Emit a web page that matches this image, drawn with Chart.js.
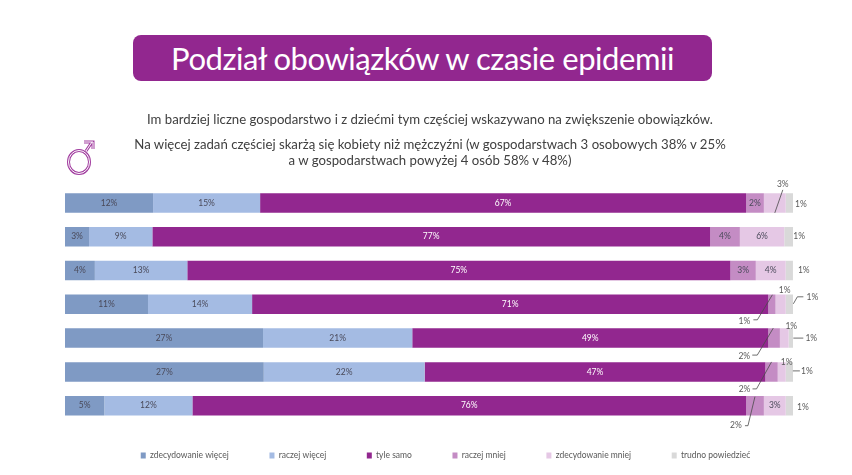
<!DOCTYPE html>
<html lang="pl">
<head>
<meta charset="utf-8">
<style>
html,body{margin:0;padding:0;background:#fff;width:852px;height:475px;overflow:hidden;font-family:Lato,sans-serif}
#wrap{position:relative;width:852px;height:475px}
canvas{position:absolute;left:0;top:0}
.t{position:absolute;white-space:nowrap;text-align:center}
#title{left:133px;top:35px;width:579px;height:46px;line-height:46px;background:#92278f;border-radius:8px;color:#fff;font-size:31px;letter-spacing:-0.45px}
.sub{left:0;width:860px;font-size:13.2px;color:#404040;line-height:16px}
svg{position:absolute;left:64px;top:140px}
</style>
</head>
<body>
<div id="wrap">
<canvas id="c" width="852" height="475"></canvas>
<div class="t" id="title">Podział obowiązków w czasie epidemii</div>
<div class="t sub" style="top:111px">Im bardziej liczne gospodarstwo i z dziećmi tym częściej wskazywano na zwiększenie obowiązków.</div>
<div class="t sub" style="top:136px">Na więcej zadań częściej skarżą się kobiety niż mężczyźni (w gospodarstwach 3 osobowych 38% v 25%</div>
<div class="t sub" style="top:152px">a w gospodarstwach powyżej 4 osób 58% v 48%)</div>
<svg width="32" height="36" viewBox="0 0 32 36" fill="none">
  <path d="M22 11 L28 2 M20 2 H29 V9" stroke="#a23ea0" stroke-width="3"/>
  <path d="M22 11 L28 2 M20 2 H29 V9" stroke="#fff" stroke-width="1"/>
  <ellipse cx="15" cy="22" rx="10.5" ry="11.5" stroke="#a23ea0" stroke-width="3"/>
  <ellipse cx="15" cy="22" rx="10.5" ry="11.5" stroke="#fff" stroke-width="1"/>
</svg>
</div>
<script src="https://cdn.jsdelivr.net/npm/chart.js@4"></script>
<script>
const categories = ['1','2','3','4','5','6','7'];
const seriesNames = ['zdecydowanie więcej','raczej więcej','tyle samo','raczej mniej','zdecydowanie mniej','trudno powiedzieć'];
const zdecydowanieWiecej = [12.1, 3.3, 4.1, 11.4, 27.2, 27.3, 5.4];
const raczejWiecej       = [14.7, 8.7, 12.7, 14.3, 20.5, 22.1, 12.1];
const tyleSamo           = [66.75, 76.6, 74.6, 70.9, 48.9, 46.8, 76.05];
const raczejMniej        = [2.45, 4.1, 3.49, 1.0, 1.6, 1.7, 2.45];
const zdecydowanieMniej  = [3.0, 6.1, 4.1, 1.4, 1.2, 1.1, 3.0];
const trudnoPowiedziec   = [1.0, 1.2, 1.0, 1.0, 0.6, 1.0, 1.0];
const seriesColors = ['#7f9ac4','#a4bbe3','#92278f','#c48cc4','#e5c8e5','#d9d9d9'];
const seriesValues = [zdecydowanieWiecej, raczejWiecej, tyleSamo, raczejMniej, zdecydowanieMniej, trudnoPowiedziec];

// Outside labels: row, series, label offset and leader line, relative to the segment centre (styling only).
const callouts = [
  [0,4,  8,-19, [[0,10],[8,-13]]],
  [0,5, 11.5,1, []],
  [1,5, 10.5,0, []],
  [2,5, 14.5,0, []],
  [3,3,-27.5,16.5, [[-18.5,15.5],[-14.5,15.5],[0.5,-9.5]]],
  [3,4,  4,-14.5, []],
  [3,5, 23,-7.5, [[4,-0.5],[8,-7.5],[14,-7.5]]],
  [4,3,-29.8,18, [[-21.8,17],[-16.8,17],[-0.8,-10]]],
  [4,4,  7,-12, []],
  [4,5, 20.5,0, [[2.5,0],[12.5,0]]],
  [5,3,-27,17, [[-19,17],[-15,17],[0,-10]]],
  [5,4,  5,-10, []],
  [5,5, 17.5,-1, [[3.5,-1],[10.5,-1]]],
  [6,3,-19,20, [[-10,20],[-7,20],[0,-9]]],
  [6,5, 13.5,2, []]
];

const labelPlugin = {
  id:'segmentLabels',
  afterLayout(chart){
    const l = chart.legend;
    const dx = 16.5, dy = -12;
    l.left += dx; l.right += dx; l.top += dy; l.bottom += dy;
  },
  afterDatasetsDraw(chart){
    const ctx = chart.ctx;
    ctx.save();
    ctx.font = '8.5px Lato, sans-serif';
    ctx.textAlign = 'center';
    ctx.textBaseline = 'middle';
    const isOut = (r,s)=>callouts.some(c=>c[0]===r&&c[1]===s);
    chart.data.datasets.forEach((ds,s)=>{
      const meta = chart.getDatasetMeta(s);
      meta.data.forEach((el,r)=>{
        if(isOut(r,s)) return;
        ctx.fillStyle = s===2 ? '#ffffff' : '#4a4a5a';
        ctx.fillText(Math.round(ds.data[r])+'%', (el.x+el.base)/2, el.y);
      });
    });
    callouts.forEach(([r,s,lx,ly,pts])=>{
      const el = chart.getDatasetMeta(s).data[r];
      const cx = (el.x+el.base)/2, cy = el.y;
      if(pts.length){
        ctx.strokeStyle = '#4a4a4a';
        ctx.lineWidth = 0.8;
        ctx.beginPath();
        pts.forEach(([x,y],i)=> i? ctx.lineTo(cx+x,cy+y) : ctx.moveTo(cx+x,cy+y));
        ctx.stroke();
      }
      ctx.fillStyle = '#595959';
      ctx.fillText(Math.round(chart.data.datasets[s].data[r])+'%', cx+lx, cy+ly);
    });
    ctx.restore();
  }
};

new Chart(document.getElementById('c'),{
  type:'bar',
  data:{
    labels:categories,
    datasets:seriesNames.map((n,i)=>({
      label:n,
      data:seriesValues[i],
      backgroundColor:seriesColors[i],
      borderWidth:0,
      categoryPercentage:1,
      barPercentage:0.577
    }))
  },
  options:{
    indexAxis:'y',
    responsive:false,
    animation:false,
    layout:{padding:{left:65,right:59,top:186,bottom:-6.7}},
    scales:{
      x:{stacked:true,min:0,max:100,display:false},
      y:{stacked:true,display:false}
    },
    plugins:{
      tooltip:{enabled:false},
      legend:{
        position:'bottom',
        labels:{
          font:{family:'Lato, sans-serif',size:8.5},
          color:'#595959',
          boxWidth:5,
          boxHeight:6,
          padding:40.6
        }
      }
    }
  },
  plugins:[labelPlugin]
});
</script>
</body>
</html>
